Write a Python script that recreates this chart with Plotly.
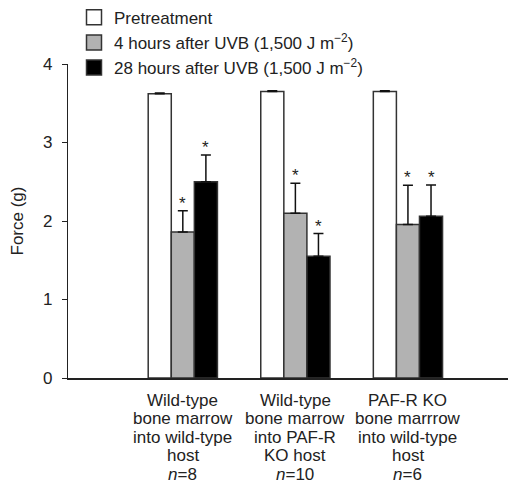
import plotly.graph_objects as go

groups = [
    ["Wild-type", "bone marrow", "into wild-type", "host", "<i>n</i>=8"],
    ["Wild-type", "bone marrow", "into PAF-R", "KO host", "<i>n</i>=10"],
    ["PAF-R KO", "bone marrrow", "into wild-type", "host", "<i>n</i>=6"],
]
series_names = [
    "Pretreatment",
    "4 hours after UVB (1,500 J m<sup>\u22122</sup>)",
    "28 hours after UVB (1,500 J m<sup>\u22122</sup>)",
]
pre_vals = [3.62, 3.65, 3.65]
pre_err = [0.01, 0.01, 0.01]
h4_vals = [1.86, 2.10, 1.955]
h4_err = [0.27, 0.38, 0.50]
h28_vals = [2.50, 1.55, 2.06]
h28_err = [0.34, 0.29, 0.40]
signif_h4 = [True, True, True]
signif_h28 = [True, True, True]
y_ticks = [0, 1, 2, 3, 4]

colors = ["#ffffff", "#b2b2b2", "#000000"]
FONT = "Liberation Sans, Arial, sans-serif"
TXT = "#222222"
bw = 0.205
offsets = [-1.5 * bw, -0.5 * bw, 0.5 * bw]

xs = list(range(len(groups)))
fig = go.Figure()
data = [(pre_vals, pre_err), (h4_vals, h4_err), (h28_vals, h28_err)]
for k, (vals, errs) in enumerate(data):
    fig.add_trace(go.Bar(
        x=xs, y=vals, width=bw, offset=offsets[k],
        marker=dict(color=colors[k], line=dict(color="#333333", width=1.5)),
        error_y=dict(type="data", array=errs, arrayminus=[0] * len(errs),
                     symmetric=False, color="#111111", thickness=1.5, width=5),
        showlegend=False,
    ))
    # legend proxy
    fig.add_trace(go.Scatter(
        x=[None], y=[None], mode="markers", name=series_names[k],
        marker=dict(symbol="square", size=15, color=colors[k],
                    line=dict(color="#333333", width=1.5)),
    ))

annotations = []
for k, (vals, errs, sig) in enumerate([(h4_vals, h4_err, signif_h4), (h28_vals, h28_err, signif_h28)], start=1):
    for i in xs:
        if sig[i]:
            annotations.append(dict(
                x=i + offsets[k] + bw / 2, y=vals[i] + errs[i], xref="x", yref="y",
                text="*", showarrow=False, yanchor="bottom", yshift=-4,
                font=dict(size=17, family=FONT, color=TXT),
            ))

for i, lines in enumerate(groups):
    for j, line in enumerate(lines):
        annotations.append(dict(
            x=i, y=0, xref="x", yref="y", text=line, showarrow=False,
            yanchor="middle", yshift=-(22 + 18.5 * j),
            font=dict(size=17, family=FONT, color=TXT),
        ))

fig.update_layout(
    width=508, height=478,
    margin=dict(l=60, r=0, t=56, b=108, autoexpand=False),
    paper_bgcolor="white", plot_bgcolor="white",
    font=dict(family=FONT, size=17, color=TXT),
    barmode="overlay",
    annotations=annotations,
    legend=dict(x=0.0134, y=1.2046, xref="paper", yref="paper", xanchor="left", yanchor="top",
                bgcolor="rgba(0,0,0,0)", font=dict(size=17, family=FONT, color=TXT),
                tracegroupgap=0, itemsizing="trace"),
    xaxis=dict(range=[-1.02, 2.96], showticklabels=False, ticks="",
               showline=True, linecolor="#222222", linewidth=1.5,
               showgrid=False, zeroline=False, fixedrange=True, automargin=False),
    yaxis=dict(range=[0, 4], tickvals=y_ticks, ticks="outside", ticklen=5,
               tickwidth=1.2, tickcolor="#222222", ticklabelstandoff=6,
               showline=True, linecolor="#222222", linewidth=1.2,
               showgrid=False, zeroline=False, automargin=False,
               title=dict(text="Force (g)", font=dict(size=17, family=FONT, color=TXT), standoff=22),
               tickfont=dict(size=17, family=FONT, color=TXT)),
)

fig.write_html("out.html")
